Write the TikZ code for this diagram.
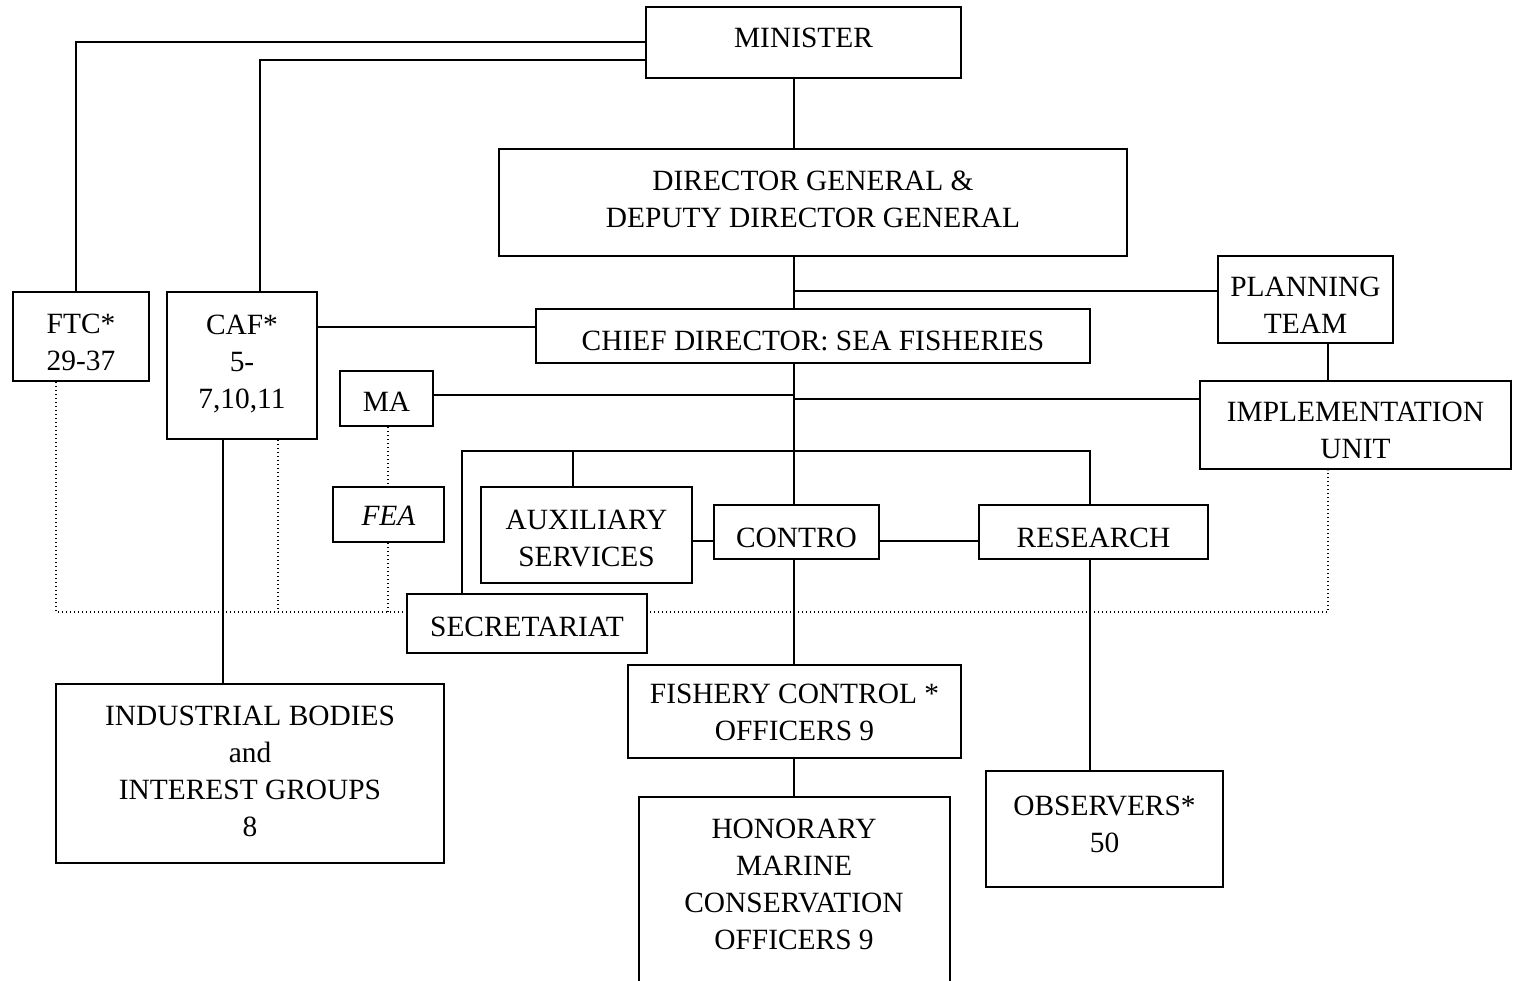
\documentclass[tikz,border=0pt]{standalone}
\usepackage{fontspec}
\setmainfont{Liberation Serif}
\usetikzlibrary{backgrounds}
\tikzset{
  orgbox/.style={draw, line width=1pt, fill=white, inner sep=0pt},
  orgtext/.style={inner sep=0pt, align=center, font=\fontsize{14.7pt}{18.5pt}\selectfont},
  link/.style={line width=1pt},
  dotlink/.style={line width=0.7pt, dash pattern=on 0.7pt off 1.3pt},
}
% \OrgBox[text offset]{name}{left}{top}{right}{bottom}{text}:
% a framed box given by its corners, with its text set near the middle
\newcommand\OrgBox[7][0]{%
  \node[orgbox, minimum width={(#5-#3)*0.5pt}, minimum height={(#6-#4)*0.5pt}]
    (#2) at ({(#3+#5)/2},{(#4+#6)/2}) {};
  \node[orgtext] (#2-text) at ({(#3+#5)/2},{(#4+#6)/2+#1}) {#7};}
\begin{document}
\begin{tikzpicture}[x=0.5pt, y=-0.5pt]
\useasboundingbox (0,0) rectangle (1518,980);
\clip (0,0) rectangle (1518,980);

% boxes
\OrgBox[-5]{min}{646}{7}{961}{78}{MINISTER}
\OrgBox[-3]{dg}{499}{149}{1127}{256}{DIRECTOR GENERAL \&\\DEPUTY DIRECTOR GENERAL}
\OrgBox[6]{plan}{1218}{256}{1393}{343}{PLANNING\\TEAM}
\OrgBox[5]{chief}{536}{309}{1090}{363}{CHIEF DIRECTOR: SEA FISHERIES}
\OrgBox[6]{ftc}{13}{292}{149}{381}{FTC*\\29-37}
\OrgBox[-1]{caf}{167}{292}{317}{439}{CAF*\\5-\\7,10,11}
\OrgBox[3]{ma}{340}{371}{433}{426}{MA}
\OrgBox[5]{impl}{1200}{381}{1511}{469}{IMPLEMENTATION\\UNIT}
\OrgBox[1]{fea}{333}{487}{444}{542}{\textit{FEA}}
\OrgBox[4]{aux}{481}{487}{692}{583}{AUXILIARY\\SERVICES}
\OrgBox[6]{contro}{714}{505}{879}{559}{CONTRO}
\OrgBox[6]{res}{979}{505}{1208}{559}{RESEARCH}
\OrgBox[3]{sec}{407}{594}{647}{653}{SECRETARIAT}
\OrgBox[-2]{ind}{56}{684}{444}{863}{INDUSTRIAL BODIES\\and\\INTEREST GROUPS\\8}
\OrgBox[1]{fco}{628}{665}{961}{758}{FISHERY CONTROL *\\OFFICERS 9}
\OrgBox[-5]{obs}{986}{771}{1223}{887}{OBSERVERS*\\50}
\node[orgbox, minimum width={311*0.5pt}, minimum height={214*0.5pt}, anchor=north]
  (hmco) at (794.5,796) {};
\node[orgtext, anchor=north] (hmco-text) at (794,819) {HONORARY\\MARINE\\CONSERVATION\\OFFICERS 9};

\begin{scope}[on background layer]
  % dotted advisory links
  \draw[dotlink] (ftc.south -| 56,0) -- (56,612) -- (1328,612) -- (impl.south -| 1328,0);
  \draw[dotlink] (caf.south -| 278,0) -- (278,612);
  \draw[dotlink] (ma.south -| 388,0) -- (fea.north -| 388,0);
  \draw[dotlink] (fea.south -| 388,0) -- (388,612);

  % reporting lines
  \draw[link] (min.west |- 0,42) -| (ftc.north -| 76,0);
  \draw[link] (min.west |- 0,60) -| (caf.north -| 260,0);
  \draw[link] (min.south -| 794,0) -- (dg.north -| 794,0);
  \draw[link] (dg.south -| 794,0) -- (chief.north -| 794,0);
  \draw[link] (794,291) -- (plan.west |- 0,291);
  \draw[link] (plan.south -| 1328,0) -- (impl.north -| 1328,0);
  \draw[link] (caf.east |- 0,327) -- (chief.west |- 0,327);
  \draw[link] (caf.south -| 223,0) -- (ind.north -| 223,0);
  \draw[link] (chief.south -| 794,0) -- (contro.north -| 794,0);
  \draw[link] (ma.east |- 0,395) -- (794,395);
  \draw[link] (794,399) -- (impl.west |- 0,399);
  \draw[link] (sec.north -| 462,0) -- (462,451) -- (1090,451) -- (res.north -| 1090,0);
  \draw[link] (aux.north -| 573,0) -- (573,451);
  \draw[link] (aux.east |- 0,541) -- (contro.west |- 0,541);
  \draw[link] (contro.east |- 0,541) -- (res.west |- 0,541);
  \draw[link] (contro.south -| 794,0) -- (fco.north -| 794,0);
  \draw[link] (fco.south -| 794,0) -- (hmco.north -| 794,0);
  \draw[link] (res.south -| 1090,0) -- (obs.north -| 1090,0);
\end{scope}
\end{tikzpicture}
\end{document}
